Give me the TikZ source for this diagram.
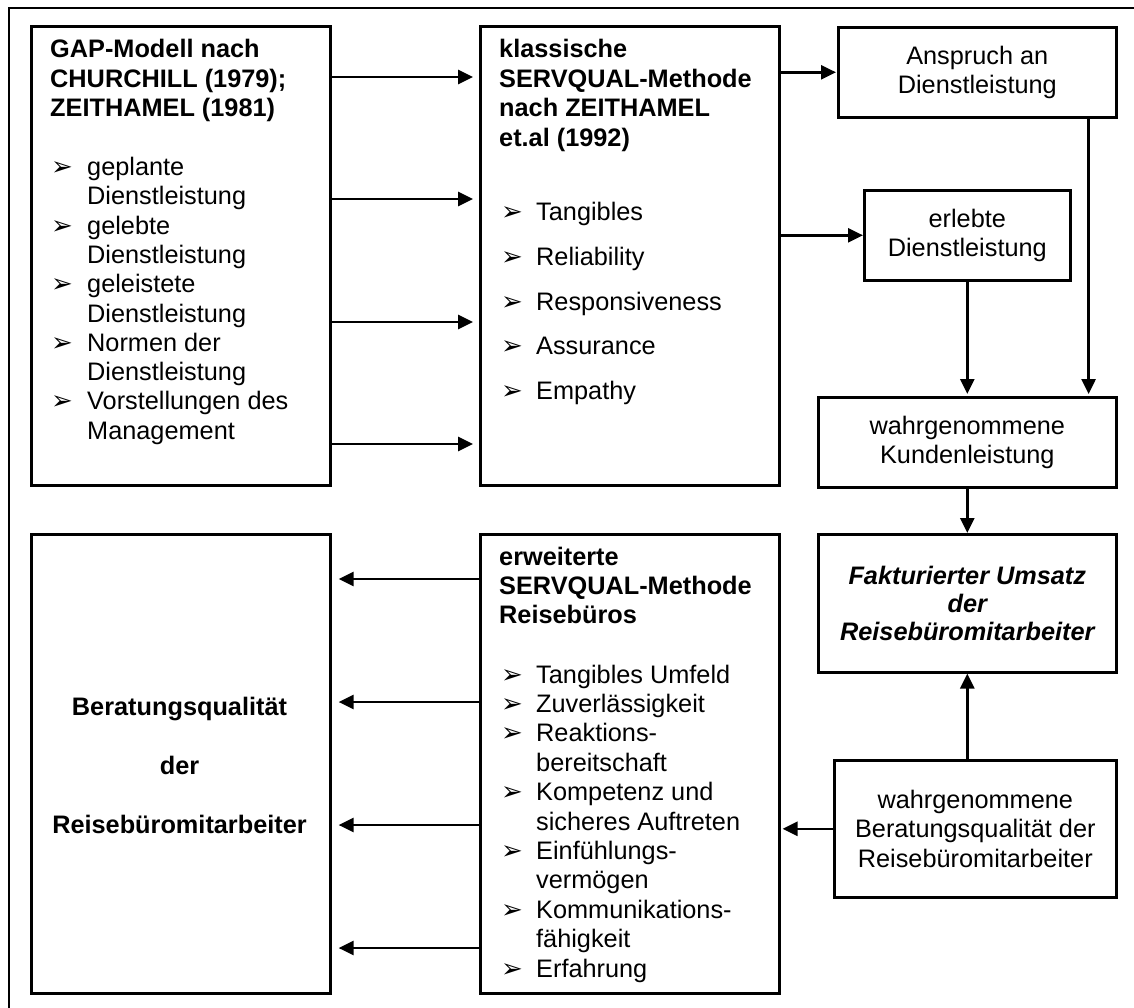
\documentclass[tikz,border=0pt]{standalone}
\usepackage{fontspec}
\setmainfont{Liberation Sans}
\newfontfamily\dingfont{DejaVu Sans}
\usetikzlibrary{arrows.meta}

\tikzset{
  box/.style={draw, line width=2.6pt, rectangle, anchor=north west, inner sep=0pt,
              align=center, font=\fontsize{25.3}{29.3}\selectfont},
  conn/.style={line width=2.6pt, -{Triangle[length=15pt,width=14pt]}},
  txt/.style={anchor=base west, inner sep=0pt, font=\fontsize{25.3}{29.3}\selectfont},
  hdr/.style={anchor=base west, inner sep=0pt, font=\fontsize{25.3}{29.3}\selectfont\bfseries},
  ctr/.style={anchor=base, inner sep=0pt, font=\fontsize{25.3}{29.3}\selectfont\bfseries},
  bul/.style={anchor=base west, inner sep=0pt, font=\dingfont\fontsize{26}{26}\selectfont},
}

\begin{document}
\begin{tikzpicture}[x=1pt, y=-1pt]
\useasboundingbox (0,0) rectangle (1134,1008);

% outer frame
\draw[line width=2.2pt] (9,1008) -- (9,8) -- (1134,8);

% boxes
\node[box, minimum width=299pt, minimum height=459pt] (gap)   at (30,25)  {};
\node[box, minimum width=299pt, minimum height=459pt] (klass) at (479,25) {};
\node[box, minimum width=278pt, minimum height=90pt]  (ansp)  at (837,26) {Anspruch an\\Dienstleistung};
\node[box, minimum width=206pt, minimum height=90pt]  (erleb) at (863,189) {erlebte\\Dienstleistung};
\node[box, minimum width=298pt, minimum height=90pt]  (kund)  at (817,396) {wahrgenommene\\Kundenleistung};
\node[box, minimum width=298pt, minimum height=138pt, font=\fontsize{25.3}{28}\selectfont\bfseries\itshape]
      (fakt) at (817,533) {Fakturierter Umsatz\\der\\Reisebüromitarbeiter};
\node[box, minimum width=282pt, minimum height=137pt] (wber)  at (833,759)
      {wahrgenommene\\Beratungsqualität der\\Reisebüromitarbeiter};
\node[box, minimum width=299pt, minimum height=459pt] (berat) at (30,533)  {};
\node[box, minimum width=299pt, minimum height=459pt] (erw)   at (479,533) {};

% GAP model box
\node[hdr] (gh1) at (50,58)   {GAP-Modell nach};
\node[hdr] (gh2) at (50,87.3) {CHURCHILL (1979);};
\node[hdr] (gh3) at (50,116.6){ZEITHAMEL (1981)};
\foreach \t [count=\i from 0] in {geplante, Dienstleistung, gelebte, Dienstleistung,
    geleistete, Dienstleistung, Normen der, Dienstleistung, Vorstellungen des, Management}
  \node[txt] (gl\i) at (87,175.5+29.3*\i) {\t};
\foreach \i in {0,2,4,6,8}
  \node[bul] (gb\i) at (51,175.5+29.3*\i) {➢};

% classic SERVQUAL box
\node[hdr] (kh1) at (499,58)    {klassische};
\node[hdr] (kh2) at (499,87.5)  {SERVQUAL-Methode};
\node[hdr] (kh3) at (499,117)   {nach ZEITHAMEL};
\node[hdr] (kh4) at (499,146.5) {et.al (1992)};
\foreach \t [count=\i from 0] in {Tangibles, Reliability, Responsiveness, Assurance, Empathy}{
  \node[txt] (kl\i) at (536,221+44.5*\i) {\t};
  \node[bul] (kb\i) at (501,221+44.5*\i) {➢};
}

% extended SERVQUAL box
\node[hdr] (eh1) at (499,565)   {erweiterte};
\node[hdr] (eh2) at (499,594.3) {SERVQUAL-Methode};
\node[hdr] (eh3) at (499,623.6) {Reisebüros};
\foreach \t [count=\i from 0] in {Tangibles Umfeld, Zuverlässigkeit, Reaktions-, bereitschaft,
    Kompetenz und, sicheres Auftreten, Einfühlungs-, vermögen, Kommunikations-, fähigkeit, Erfahrung}
  \node[txt] (el\i) at (536,683+29.4*\i) {\t};
\foreach \i in {0,1,2,4,6,8,10}
  \node[bul] (eb\i) at (501,683+29.4*\i) {➢};

% consulting quality box
\node[ctr] (bt1) at (179.5,715) {Beratungsqualität};
\node[ctr] (bt2) at (179.5,774) {der};
\node[ctr] (bt3) at (179.5,833) {Reisebüromitarbeiter};

% connectors: GAP model -> classic SERVQUAL
\foreach \d in {52,174,297,419}
  \draw[conn, shorten >=6pt] ([yshift=-\d pt]gap.north east) -- ([yshift=-\d pt]klass.north west);

% classic SERVQUAL -> right column
\draw[conn, shorten >=1pt] (klass.east |- ansp.west) -- (ansp.west);
\draw[conn] (klass.east |- erleb.west) -- (erleb.west);
\draw[conn, shorten >=2pt] (erleb.south) -- (erleb.south |- kund.north);
\draw[conn, shorten >=2pt] ([xshift=-29pt]ansp.south east) -- ([xshift=-29pt]ansp.south east |- kund.north);
\draw[conn] (kund.south) -- (fakt.north);
\draw[conn] (fakt.south |- wber.north) -- (fakt.south);
\draw[conn, shorten >=2pt] (wber.west) -- (wber.west -| erw.east);

% extended SERVQUAL -> consulting quality
\foreach \d in {46,169,292,415}
  \draw[conn, shorten >=7pt] ([yshift=-\d pt]erw.north west) -- ([yshift=-\d pt]berat.north east);

\end{tikzpicture}
\end{document}
